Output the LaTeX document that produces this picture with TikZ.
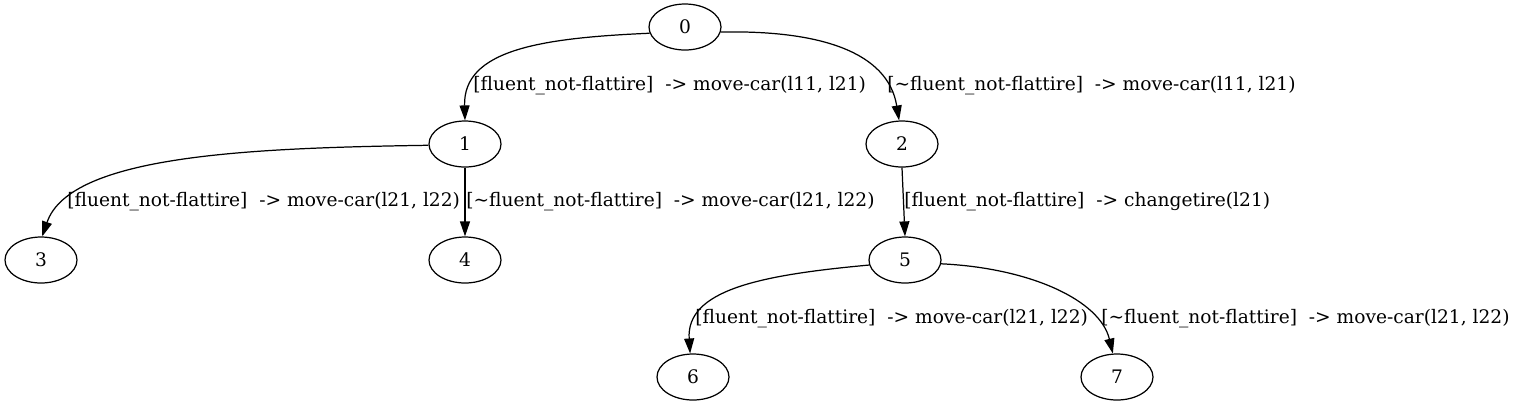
\documentclass[tikz,border=0pt]{standalone}
\usepackage{fontspec}
\setmainfont{DejaVu Serif}
\usepackage{tikz}
\usetikzlibrary{shapes.geometric,arrows.meta}

\begin{document}
\begin{tikzpicture}[
				x=0.02cm, y=-0.02cm,
				statenode/.style={ellipse, draw, line width=0.7pt, minimum width=1.44cm, minimum height=0.92cm, inner sep=0pt, font=\fontsize{10.6}{12}\selectfont},
				edgelabel/.style={anchor=west, inner sep=0pt, font=\fontsize{10.6}{12}\selectfont},
				edge/.style={line width=0.7pt, -{Triangle[length=0.3cm, width=0.2cm]}},
				]
				\useasboundingbox (0,0) rectangle (1516,407);
				%Nodes
				\node[statenode](s0) at (685,27){0};
				\node[statenode](s1) at (465,144){1};
				\node[statenode](s2) at (902,144){2};
				\node[statenode](s3) at (41,260){3};
				\node[statenode](s4) at (465,260){4};
				\node[statenode](s5) at (905,260){5};
				\node[statenode](s6) at (693,377){6};
				\node[statenode](s7) at (1117,377){7};
				
				%Labels
				\node[edgelabel](l01) at (473,86){[fluent\_not-flattire]\ \ -> move-car(l11, l21)};
				\node[edgelabel](l02) at (887,86){[\textasciitilde fluent\_not-flattire]\ \ -> move-car(l11, l21)};
				\node[edgelabel](l13) at (67,202){[fluent\_not-flattire]\ \ -> move-car(l21, l22)};
				\node[edgelabel](l14) at (466,202){[\textasciitilde fluent\_not-flattire]\ \ -> move-car(l21, l22)};
				\node[edgelabel](l25) at (904,202){[fluent\_not-flattire]\ \ -> changetire(l21)};
				\node[edgelabel](l56) at (695,319){[fluent\_not-flattire]\ \ -> move-car(l21, l22)};
				\node[edgelabel](l57) at (1101,319){[\textasciitilde fluent\_not-flattire]\ \ -> move-car(l21, l22)};
				
				%Lines
				\draw[edge] (s0.190) .. controls (540,38) and (463,50) .. (s1.north);
				\draw[edge] (s0.-8) .. controls (820,30) and (888,52) .. (s2.97);
				\draw[edge] (s1.182) .. controls (250,148) and (70,155) .. (s3.87);
				\draw[edge] (s1.south) -- (s4.north);
				\draw[edge] (s2.south) -- (s5.north);
				\draw[edge] (s5.188) .. controls (760,275) and (686,290) .. (s6.97);
				\draw[edge] (s5.-6) .. controls (1030,268) and (1100,300) .. (s7.100);
				
			\end{tikzpicture}
\end{document}
